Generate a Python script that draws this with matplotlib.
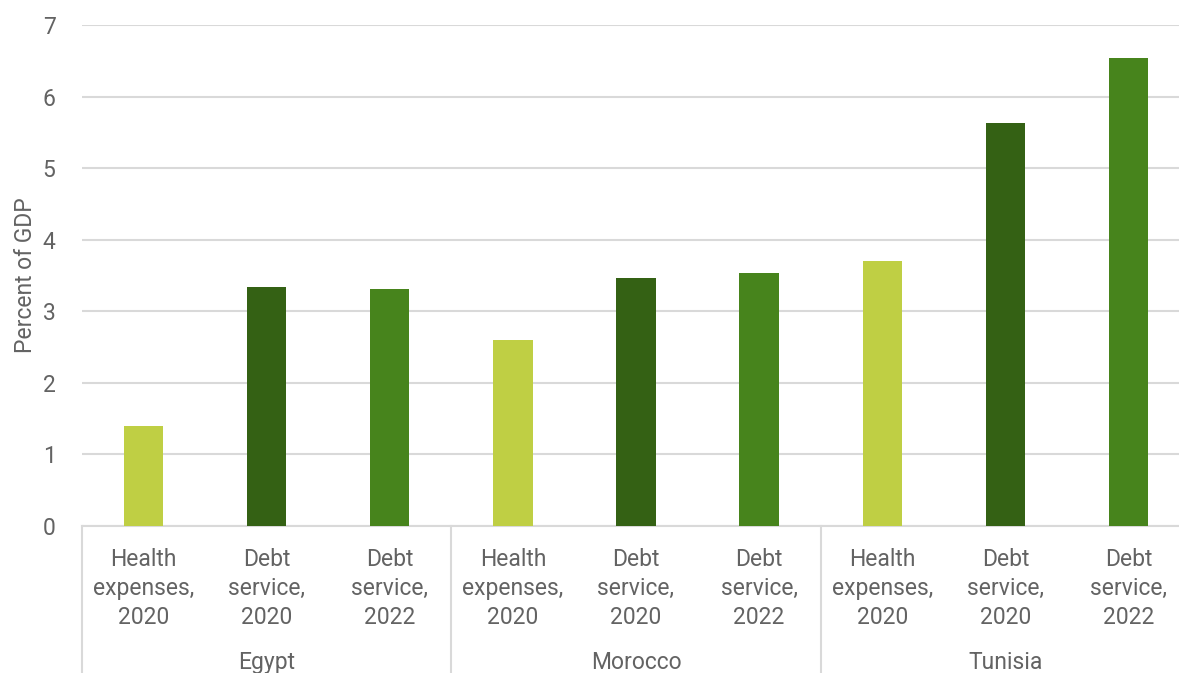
import matplotlib
matplotlib.use("Agg")
import matplotlib.pyplot as plt

countries = ["Egypt", "Morocco", "Tunisia"]
categories = ["Health\nexpenses,\n2020", "Debt\nservice,\n2020", "Debt\nservice,\n2022"]
values = {
    "Egypt": [1.40, 3.34, 3.31],
    "Morocco": [2.60, 3.46, 3.53],
    "Tunisia": [3.70, 5.63, 6.54],
}
colors = ["#BFCF44", "#346114", "#47841C"]
yticks = [0, 1, 2, 3, 4, 5, 6, 7]

W, H = 1179, 673
fig = plt.figure(figsize=(W / 100, H / 100), dpi=100)
left, right, bottom, top = 82, 1190, 526, 25
ax = fig.add_axes([left / W, 1 - bottom / H, (right - left) / W, (bottom - top) / H])

txtc = "#636363"
fam = ["Roboto", "DejaVu Sans"]
fs = 16.5
fw = "normal"

x = 0
xpos = []
labels = []
for c in countries:
    for i, v in enumerate(values[c]):
        ax.bar(x, v, width=0.32, color=colors[i], zorder=3)
        xpos.append(x)
        labels.append(categories[i])
        x += 1

ax.set_xlim(-0.5, len(xpos) - 0.5)
ax.set_ylim(0, 7)
ax.set_yticks(yticks)
ax.set_yticklabels([str(t) for t in yticks], fontsize=fs, color=txtc, family=fam, fontweight=fw)
ax.tick_params(axis="y", length=0, pad=19)
ax.set_xticks([])
ax.grid(axis="y", color="#D9D9D9", linewidth=1.5, zorder=0)
for s in ["top", "right", "left"]:
    ax.spines[s].set_visible(False)
ax.spines["bottom"].set_color("#D9D9D9")
ax.spines["bottom"].set_linewidth(1.5)
ax.set_ylabel("Percent of GDP", fontsize=fs, color=txtc, family=fam, fontweight=fw)
ax.yaxis.set_label_coords(-(82 - 37) / (right - left), 0.5)

# category labels
for xp, lab in zip(xpos, labels):
    ax.annotate(lab, xy=(xp, 0), xycoords=("data", "axes fraction"), xytext=(0, -16),
                textcoords="offset points", ha="center", va="top", fontsize=fs,
                color=txtc, family=fam, fontweight=fw, linespacing=1.33)

# country labels and separators
trans = ax.get_xaxis_transform()
for k, c in enumerate(countries):
    center = k * 3 + 1
    ax.annotate(c, xy=(center, 0), xycoords=("data", "axes fraction"), xytext=(0, -98),
                textcoords="offset points", ha="center", va="center", fontsize=fs,
                color=txtc, family=fam, fontweight=fw)
for b in [-0.5, 2.5, 5.5]:
    ax.plot([b, b], [0, -(H - bottom) / (bottom - top)], transform=trans, color="#D9D9D9",
            linewidth=1.5, clip_on=False)

fig.savefig("out.png", dpi=100)
